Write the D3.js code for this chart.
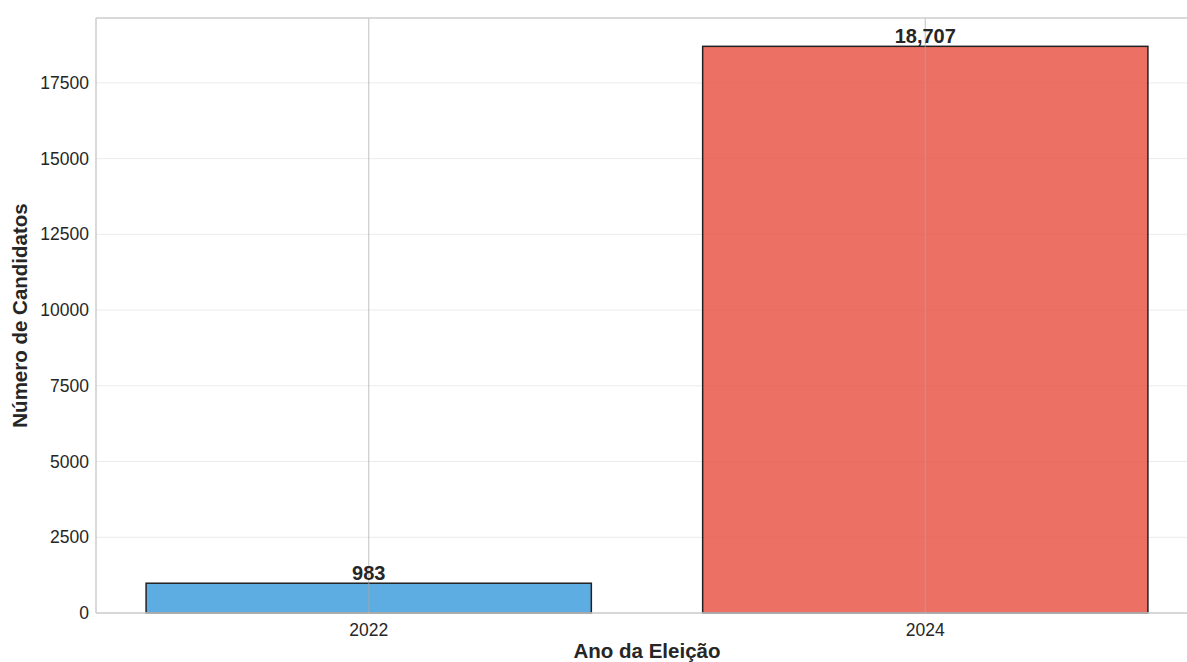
<!DOCTYPE html>
<html>
<head>
<meta charset="utf-8">
<script src="https://cdn.jsdelivr.net/npm/d3@7"></script>
<style>
  html, body { margin: 0; padding: 0; background: #ffffff; }
  svg { display: block; font-family: "Liberation Sans", Arial, sans-serif; }
</style>
</head>
<body>
<svg id="chart" width="1187" height="662"></svg>
<script>
// Candidate counts by election year
const years = ["2022", "2024"];
const candidates = [983, 18707];
const barColors = ["#3498db", "#e74c3c"];
const yTicks = [0, 2500, 5000, 7500, 10000, 12500, 15000, 17500];

(function draw() {
  const svg = d3.select("#chart");
  const plotLeft = 96, plotTop = 18, plotBottom = 613, plotRight = 1198;

  const x = d3.scaleLinear().domain([-0.49, 1.49]).range([plotLeft, plotRight]);
  const y = d3.scaleLinear().domain([0, d3.max(candidates) * 1.05]).range([plotBottom, plotTop]);
  const barW = 0.8;

  // horizontal grid
  svg.append("g").selectAll("line").data(yTicks).join("line")
    .attr("x1", plotLeft).attr("x2", plotRight)
    .attr("y1", d => y(d)).attr("y2", d => y(d))
    .attr("stroke", "#ebebeb").attr("stroke-width", 1);

  // bars
  svg.append("g").selectAll("rect").data(candidates).join("rect")
    .attr("x", (d, i) => x(i - barW / 2))
    .attr("width", (d, i) => x(i + barW / 2) - x(i - barW / 2))
    .attr("y", d => y(d))
    .attr("height", d => y(0) - y(d))
    .attr("fill", (d, i) => barColors[i]).attr("fill-opacity", 0.8)
    .attr("stroke", "#222").attr("stroke-width", 1.5);

  // vertical grid at category positions
  svg.append("g").selectAll("line").data(years).join("line")
    .attr("x1", (d, i) => x(i)).attr("x2", (d, i) => x(i))
    .attr("y1", plotTop).attr("y2", plotBottom)
    .attr("stroke", "#a8a8a8").attr("stroke-opacity", 0.6).attr("stroke-width", 1.2);

  // spines
  const spine = "#cccccc";
  svg.append("line").attr("x1", plotLeft).attr("x2", plotLeft).attr("y1", plotTop).attr("y2", plotBottom)
    .attr("stroke", spine).attr("stroke-width", 1.5);
  svg.append("line").attr("x1", plotLeft).attr("x2", plotRight).attr("y1", plotTop).attr("y2", plotTop)
    .attr("stroke", spine).attr("stroke-width", 1.5);
  svg.append("line").attr("x1", plotLeft).attr("x2", plotRight).attr("y1", plotBottom).attr("y2", plotBottom)
    .attr("stroke", spine).attr("stroke-width", 1.5);

  // y tick labels
  svg.append("g").selectAll("text").data(yTicks).join("text")
    .attr("x", plotLeft - 7).attr("y", d => y(d)).attr("dy", "0.35em")
    .attr("text-anchor", "end").attr("font-size", 17.5).attr("fill", "#262626")
    .text(d => d);

  // x tick labels
  svg.append("g").selectAll("text").data(years).join("text")
    .attr("x", (d, i) => x(i)).attr("y", plotBottom + 23)
    .attr("text-anchor", "middle").attr("font-size", 17.5).attr("fill", "#262626")
    .text(d => d);

  // value labels
  svg.append("g").selectAll("text").data(candidates).join("text")
    .attr("x", (d, i) => x(i)).attr("y", d => y(d) - 3)
    .attr("text-anchor", "middle").attr("font-size", 20).attr("font-weight", "bold")
    .attr("fill", "#262626")
    .text(d => d3.format(",")(d));

  // axis titles
  svg.append("text").attr("x", (plotLeft + plotRight) / 2).attr("y", 658)
    .attr("text-anchor", "middle").attr("font-size", 20.5).attr("font-weight", "bold")
    .attr("fill", "#262626").text("Ano da Eleição");
  svg.append("text").attr("transform", `translate(27,${(plotTop + plotBottom) / 2}) rotate(-90)`)
    .attr("text-anchor", "middle").attr("font-size", 20.5).attr("font-weight", "bold")
    .attr("fill", "#262626").text("Número de Candidatos");
})();
</script>
</body>
</html>
